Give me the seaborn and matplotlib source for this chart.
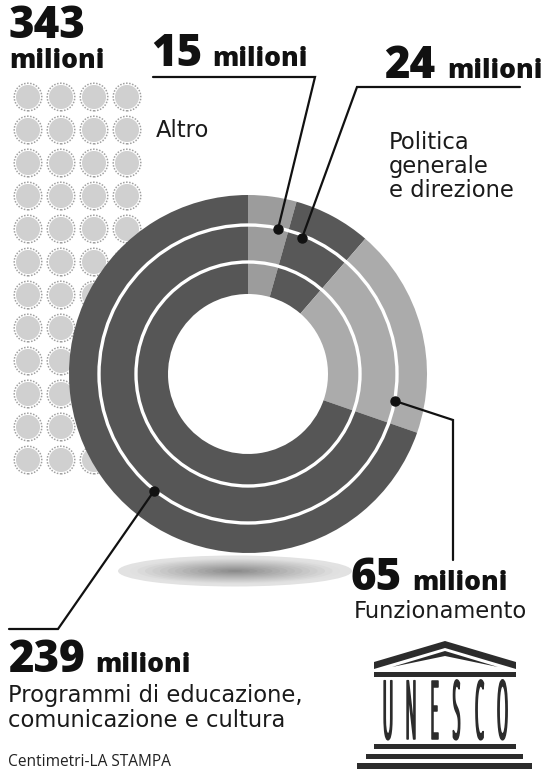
import matplotlib
matplotlib.use("Agg")
import matplotlib.pyplot as plt
import matplotlib.patheffects as pe
from matplotlib.patches import Circle, Ellipse, Polygon, Rectangle
from matplotlib.transforms import Affine2D
import seaborn as sns

# Budget shares, clockwise from twelve o'clock (millions)
budget_labels = ["Altro", "Politica generale e direzione", "Funzionamento",
                 "Programmi di educazione, comunicazione e cultura"]
budget_values = [15, 24, 65, 239]
budget_total = 343
slice_colors = ["#9c9c9c", "#585858", "#ababab", "#565656"]

# Pictogram grid beside the ring
grid_columns = [0, 1, 2, 3]
grid_rows = list(range(12))

W, H = 542, 775
sns.set_theme(style="white")
plt.rcParams["font.family"] = ["Open Sans", "DejaVu Sans"]

fig = plt.figure(figsize=(W / 100, H / 100), dpi=100)
ax = fig.add_axes([0, 0, 1, 1])

# Pictogram coins
dot_x = [28 + 33 * c for r in grid_rows for c in grid_columns]
dot_y = [97 + 33 * r for r in grid_rows for c in grid_columns]
sns.scatterplot(x=dot_x, y=dot_y, ax=ax, s=395, color="white", edgecolor="#a0a0a0",
                linewidth=1.1, linestyle=(0, (1, 1)), legend=False, zorder=1)
sns.scatterplot(x=dot_x, y=dot_y, ax=ax, s=300, color="#d0d0d0", edgecolor="none",
                legend=False, zorder=1.1)

# Ring
cx, cy, R_out, R_in = 248, 374, 179, 80
ax.pie(budget_values, colors=slice_colors, center=(cx, cy), radius=R_out,
       startangle=-90, counterclock=True, frame=True,
       wedgeprops=dict(width=R_out - R_in, linewidth=0, zorder=2))
for r in (149, 112):
    ax.add_patch(Circle((cx, cy), r, fill=False, ec="white", lw=2.4, zorder=3))

# Soft shadow under the ring
ax.add_patch(Ellipse((235, 571), 234, 31, fc="#e2e2e2", ec="none", zorder=1))
steps = 14
for i in range(steps):
    f = 1 - i / steps
    g = 0.88 - 0.33 * (i / (steps - 1))
    ax.add_patch(Ellipse((235, 571), 210 * f, 26 * f, fc=(g, g, g), ec="none", zorder=1.1))

# Leader lines, each starting at its anchor dot on the ring
leaders = [
    ([278, 315, 153], [229, 77, 77]),
    ([302, 357, 520], [238, 87, 87]),
    ([395, 453, 453], [401, 420, 560]),
    ([154, 58, 9], [491, 629, 629]),
]
for xs, ys in leaders:
    ax.plot(xs, ys, color="#111111", lw=1.6, zorder=4, solid_joinstyle="miter")
    ax.plot(xs[0], ys[0], "o", ms=6.5, color="#111111", zorder=5)

# Headline figures
big = dict(color="#111111", fontweight=800, va="baseline", zorder=6)
ax.text(9, 38, str(budget_total), fontsize=31.5, **big)
ax.text(9, 68, "milioni", fontsize=19, **big)
ax.text(151, 66, str(budget_values[0]), fontsize=31.5, **big)
ax.text(212, 66, "milioni", fontsize=19, **big)
ax.text(384, 78, str(budget_values[1]), fontsize=31.5, **big)
ax.text(447, 78, "milioni", fontsize=19, **big)
ax.text(350, 590, str(budget_values[2]), fontsize=31.5, **big)
ax.text(412, 590, "milioni", fontsize=19, **big)
ax.text(8, 672, str(budget_values[3]), fontsize=31.5, **big)
ax.text(95, 672, "milioni", fontsize=19, **big)

# Category captions
cap = dict(color="#1a1a1a", family="DejaVu Sans", fontsize=16.3, va="baseline", zorder=6)
ax.text(156, 137, "Altro", **cap)
ax.text(389, 197, "Politica\ngenerale\ne direzione", linespacing=1.06, **cap)
ax.text(354, 618, "Funzionamento", **cap)
ax.text(8, 727, "Programmi di educazione,\ncomunicazione e cultura", linespacing=1.12, **cap)
ax.text(8, 766, "Centimetri-LA STAMPA", color="#222222", fontsize=11.2, va="baseline", zorder=6)


class Stretch(pe.AbstractPathEffect):
    """Rescale a glyph about a fixed display point and outline it."""

    def __init__(self, sx, sy, x0, y0, weight):
        super().__init__()
        self.sx, self.sy, self.x0, self.y0, self.weight = sx, sy, x0, y0, weight

    def draw_path(self, renderer, gc, tpath, affine, rgbFace=None):
        t = affine + (Affine2D().translate(-self.x0, -self.y0)
                      .scale(self.sx, self.sy).translate(self.x0, self.y0))
        stroke = renderer.new_gc()
        stroke.copy_properties(gc)
        stroke.set_foreground(rgbFace)
        stroke.set_linewidth(self.weight)
        renderer.draw_path(stroke, tpath, t, rgbFace)
        stroke.restore()


# Emblem
ink = "#2c2c2c"
emblem = [
    [(374, 662), (445, 641), (516, 662), (516, 669), (445, 648), (374, 669)],
    [(392, 667), (445, 651), (498, 667), (445, 656)],
]
for pts in emblem:
    ax.add_patch(Polygon(pts, closed=True, fc=ink, ec="none", zorder=6))
for x0, y0, w, h in [(374, 672, 142, 5), (374, 744, 142, 5),
                     (366, 754, 157, 5), (357, 763, 175, 6)]:
    ax.add_patch(Rectangle((x0, y0), w, h, fc=ink, ec="none", zorder=6))
letter_x = [388, 411, 434.5, 456.5, 479.5, 502.5]
for ch, x in zip("UNESCO", letter_x):
    ax.text(x, 739, ch, fontsize=12, color=ink, ha="center", va="baseline",
            fontweight="normal", zorder=6,
            path_effects=[Stretch(0.85, 4.9, x, H - 739, 1.1)])

ax.set(xlim=(0, W), ylim=(H, 0), xlabel="", ylabel="", xticks=[], yticks=[])
ax.set_aspect("auto")
ax.axis("off")
fig.savefig("out.png", dpi=100, facecolor="white")
